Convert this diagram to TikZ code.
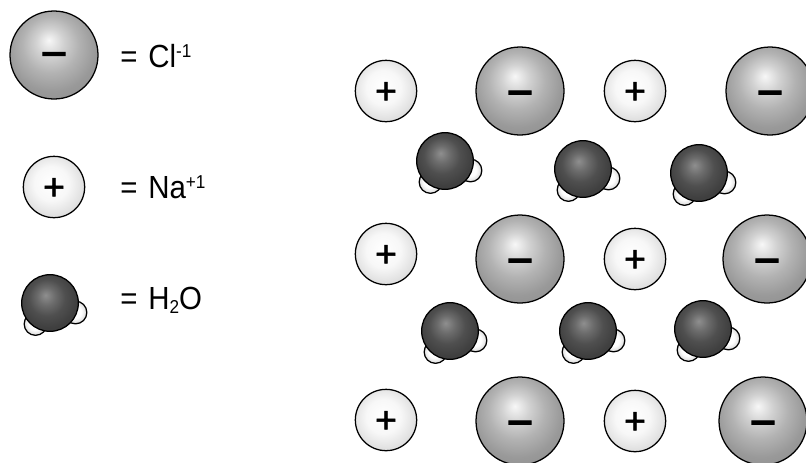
\documentclass[tikz,border=0pt]{standalone}
\usepackage{fontspec}
\setmainfont[FakeStretch=0.92]{Liberation Sans}
\newfontfamily\signfont[FakeBold=1.2]{Liberation Sans}
\newfontfamily\minusfont[FakeBold=2.4]{Liberation Sans}
\usetikzlibrary{positioning}
\newcommand{\upnum}[1]{\raisebox{7pt}{\fontsize{14}{14}\selectfont #1}}
\newcommand{\downnum}[1]{\raisebox{-3.5pt}{\fontsize{14}{14}\selectfont #1}}
\pgfdeclareradialshading{clball}{\pgfpoint{-3bp}{8.5bp}}{
  color(0bp)=(white!97!black); color(8bp)=(white!82!black); color(16bp)=(white!70!black);
  color(25bp)=(white!60!black); color(34bp)=(white!56!black); color(50bp)=(white!56!black)}
\pgfdeclareradialshading{naball}{\pgfpoint{-3bp}{4bp}}{
  color(0bp)=(white); color(14bp)=(white!97!black);
  color(30bp)=(white!84!black); color(50bp)=(white!80!black)}
\pgfdeclareradialshading{oball}{\pgfpoint{-4bp}{7bp}}{
  color(0bp)=(white!56!black); color(8bp)=(white!42!black); color(16bp)=(white!31!black);
  color(25bp)=(white!25!black); color(32bp)=(white!23!black); color(50bp)=(white!23!black)}
\pgfdeclareradialshading{hball}{\pgfpoint{-2bp}{2bp}}{
  color(0bp)=(white); color(14bp)=(white); color(28bp)=(white!82!black); color(50bp)=(white!80!black)}
\tikzset{
  cl/.style   = {circle, draw=black, line width=0.95pt, inner sep=0pt,
                 minimum size=66pt, shading=clball, text height=25pt, text depth=0pt,
                 font=\minusfont\fontsize{34}{34}\selectfont},
  na/.style   = {circle, draw=black, line width=0.95pt, inner sep=0pt,
                 minimum size=46pt, shading=naball, text height=19pt, text depth=0pt,
                 font=\signfont\fontsize{28}{28}\selectfont},
  oxy/.style  = {circle, draw=black, line width=0.95pt, inner sep=0pt,
                 minimum size=42.5pt, shading=oball},
  hyd/.style  = {circle, draw=black, line width=0.95pt, inner sep=0pt,
                 minimum size=17pt, shading=hball},
  legend/.style = {anchor=base west, inner sep=0pt, font=\fontsize{24}{24}\selectfont},
  water/.pic  = {
    \node[hyd] (-hr) at (25.5,9.5) {};
    \node[hyd] (-hl) at (-14.5,21) {};
    \node[oxy] (-o) at (0,0) {};
  },
}
\begin{document}
\begin{tikzpicture}[x=0.75pt, y=-0.75pt]
  \useasboundingbox (0,0) rectangle (806,462);
  \clip (0,0) rectangle (806,462);

  % key on the left
  \node[cl, text height=21pt] (keycl) at (54,55) {−};
  \node[na] (keyna) at (54,187) {+};
  \pic (keywater) at (50,303) {water};
  \node[legend] (labcl) at (120,67) {=\hspace{2pt} Cl\upnum{-1}};
  \node[legend] (labna) at (120,198) {=\hspace{2pt} Na\upnum{+1}};
  \node[legend] (labwater) at (120,309) {=\hspace{2pt} H\downnum{2}O};

  % sodium ions
  \foreach \i/\x/\y in {1/386/91, 2/635/91, 3/386/254, 4/635/259, 5/386/420, 6/635/421}{
    \node[na] (na\i) at (\x,\y) {+};
  }

  % chloride ions
  \foreach \i/\x/\y in {1/770/91, 2/520/91, 3/520/259, 4/767/259, 5/520/421, 6/763/421}{
    \node[cl] (cl\i) at (\x,\y) {−};
  }

  % water between the rows
  \foreach \i/\x/\y in {1/445/161, 2/583/169, 3/699/173, 4/450/331, 5/588/331, 6/703/329}{
    \pic (w\i) at (\x,\y) {water};
  }
\end{tikzpicture}
\end{document}
